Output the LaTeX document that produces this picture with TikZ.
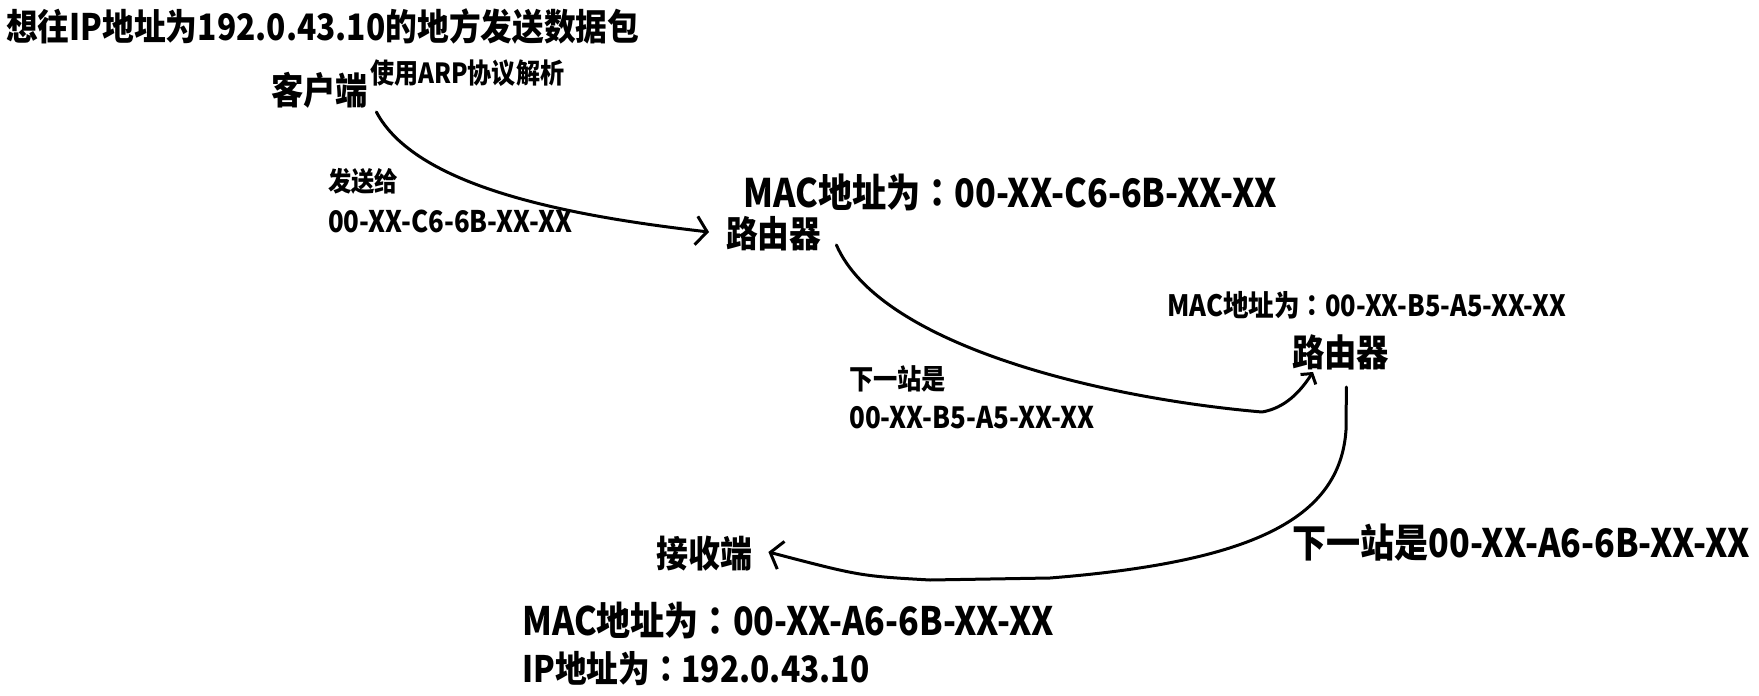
\documentclass[tikz,border=0pt]{standalone}
\usepackage{fontspec}
\setmainfont{Noto Sans CJK SC}
\newfontfamily\tcfont{Noto Sans CJK TC}
\usetikzlibrary{arrows.meta}
\newcommand\fitw[2]{\resizebox{#1pt}{!}{\scalebox{1}[1.15]{\bfseries #2}}}
\newcommand\cc{{\tcfont\bfseries ：}}
\tikzset{
  lbl/.style={anchor=west, inner sep=0pt, font=\bfseries},
  link/.style={line width=3pt, line cap=round, line join=round},
  barb/.style={-{Straight Barb[length=#1pt, width=2.6*#1pt, line width=3pt]}}
}
\begin{document}
\begin{tikzpicture}[x=1pt, y=-1pt]
\fill[white] (0,0) rectangle (1759,696);
\useasboundingbox (0,0) rectangle (1759,696);

\node[lbl] (title) at (6,27) {\fitw{633}{想往IP地址为192.0.43.10的地方发送数据包}};
\node[lbl] (kh) at (271,90) {\fitw{97}{客户端}};
\node[lbl] (arp) at (370,73) {\fitw{194}{使用ARP协议解析}};
\node[lbl] (fsg) at (328,181) {\fitw{70}{发送给}};
\node[lbl] (fsgmac) at (328,221) {\fitw{244}{00-XX-C6-6B-XX-XX}};
\node[lbl] (mac1) at (743,192) {\fitw{534}{MAC地址为\cc 00-XX-C6-6B-XX-XX}};
\node[lbl] (r1) at (726,234) {\fitw{95}{路由器}};
\node[lbl] (mac2) at (1167,305) {\fitw{399}{MAC地址为\cc 00-XX-B5-A5-XX-XX}};
\node[lbl] (r2) at (1292,352) {\fitw{97}{路由器}};
\node[lbl] (nx1) at (849,379) {\fitw{97}{下一站是}};
\node[lbl] (nx1mac) at (849,418) {\fitw{245}{00-XX-B5-A5-XX-XX}};
\node[lbl] (rcv) at (656,554) {\fitw{96}{接收端}};
\node[lbl] (nx2) at (1292,543) {\fitw{458}{下一站是00-XX-A6-6B-XX-XX}};
\node[lbl] (mac3) at (522,620) {\fitw{532}{MAC地址为\cc 00-XX-A6-6B-XX-XX}};
\node[lbl] (ip) at (522,669) {\fitw{347}{IP地址为\cc 192.0.43.10}};

% client -> router 1
\draw[link, barb=11] ([shift={(8,22)}]kh.east)
  .. controls (415,185) and (560,215) .. ([shift={(-17,-2)}]r1.west);
% router 1 -> router 2
\draw[link, barb=7] ([shift={(15,11)}]r1.east)
  .. controls (880,345) and (1100,398) .. (1262,412)
  .. controls (1285,408) and (1300,392) .. ([shift={(21,20)}]r2.west);
% router 2 -> receiver
\draw[link, barb=11] ([shift={(-43,35)}]r2.east) -- (1346,430)
  .. controls (1340,520) and (1250,562) .. (1050,578)
  -- (930,580) .. controls (860,576) .. ([shift={(16,-2)}]rcv.east);
\end{tikzpicture}
\end{document}
